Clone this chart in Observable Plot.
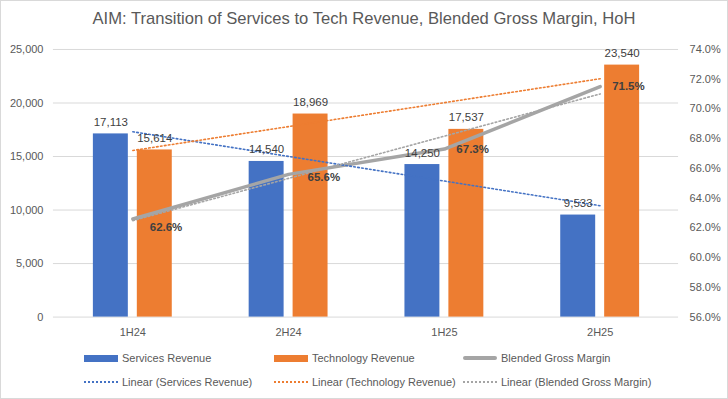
<!DOCTYPE html>
<html>
<head>
<meta charset="utf-8">
<script src="https://cdn.jsdelivr.net/npm/d3@7"></script>
<script src="https://cdn.jsdelivr.net/npm/@observablehq/plot@0.6"></script>
<style>
  body { margin: 0; background: #fff; }
  #chart { position: relative; width: 728px; height: 399px; box-sizing: border-box; border: 1px solid #d9d9d9; font-family: "Liberation Sans", Arial, sans-serif; overflow: hidden; background: #fff; }
  #title { position: absolute; top: 8px; left: 0; width: 100%; text-align: center; font-size: 16.6px; color: #595959; white-space: nowrap; }
  #plot { position: absolute; top: 29px; left: -1px; }
  .lg { position: absolute; display: flex; align-items: center; font-size: 11px; color: #595959; white-space: nowrap; height: 14px; }
  .sw { width: 34px; margin-right: 4px; box-sizing: border-box; }
</style>
</head>
<body>
<div id="chart">
  <div id="title"></div>
  <div id="plot"></div>
</div>
<script>
const titleText = "AIM: Transition of Services to Tech Revenue, Blended Gross Margin, HoH";
const categories = ["1H24", "2H24", "1H25", "2H25"];
const servicesRevenue = [17113, 14540, 14250, 9533];
const technologyRevenue = [15614, 18969, 17537, 23540];
const blendedMargin = [62.6, 65.6, 67.3, 71.5];
const leftTicks = [0, 5000, 10000, 15000, 20000, 25000];
const rightTicks = [56, 58, 60, 62, 64, 66, 68, 70, 72, 74];
const seriesNames = ["Services Revenue", "Technology Revenue", "Blended Gross Margin"];
const trendNames = ["Linear (Services Revenue)", "Linear (Technology Revenue)", "Linear (Blended Gross Margin)"];

// styling
const colors = ["#4472C4", "#ED7D31", "#A5A5A5"];
const marginLabelDx = [17, 19, 12, 12];
const marginLabelDy = [8, 3, 0, 0];

document.getElementById("title").textContent = titleText;

const leftMax = 25000, rMin = 56, rMax = 74;
const toLeft = m => (m - rMin) / (rMax - rMin) * leftMax;
const fromLeft = v => rMin + v / leftMax * (rMax - rMin);

const rows = categories.map((c, i) => ({
  cat: c, services: servicesRevenue[i], tech: technologyRevenue[i],
  margin: blendedMargin[i], marginY: toLeft(blendedMargin[i])
}));

function linearFit(vals) {
  const xs = vals.map((_, i) => i + 1);
  const mx = d3.mean(xs), my = d3.mean(vals);
  let sxy = 0, sxx = 0;
  xs.forEach((x, i) => { sxy += (x - mx) * (vals[i] - my); sxx += (x - mx) ** 2; });
  const b = sxy / sxx, a = my - b * mx;
  return xs.map(x => a + b * x);
}
const trendServices = linearFit(servicesRevenue);
const trendTech = linearFit(technologyRevenue);
const trendMargin = linearFit(blendedMargin).map(toLeft);
const trendRows = (vals) => categories.map((c, i) => ({cat: c, y: vals[i]}));

const fmt = d3.format(",");
const dotted = {strokeWidth: 1.6, strokeDasharray: "1.6 2.4"};

const chart = Plot.plot({
  width: 728, height: 315,
  marginTop: 19, marginBottom: 28, marginLeft: 53, marginRight: 49,
  x: {type: "band", domain: categories, paddingInner: 0.495, paddingOuter: 0.2475},
  y: {domain: [0, leftMax]},
  style: {fontFamily: '"Liberation Sans", Arial, sans-serif', fontSize: "11px", color: "#595959", background: "transparent"},
  marks: [
    Plot.gridY(leftTicks, {stroke: "#d9d9d9", strokeOpacity: 1}),
    Plot.axisY(leftTicks, {anchor: "left", tickSize: 0, tickPadding: 10, tickFormat: fmt, label: null, fill: "#595959"}),
    Plot.axisY(rightTicks.map(toLeft), {anchor: "right", tickSize: 0, tickPadding: 11, tickFormat: v => fromLeft(v).toFixed(1) + "%", label: null, fill: "#595959"}),
    Plot.axisX({tickSize: 0, tickPadding: 11, label: null, fill: "#595959"}),
    Plot.barY(rows, {x: "cat", y: "services", fill: colors[0], insetRight: 44}),
    Plot.barY(rows, {x: "cat", y: "tech", fill: colors[1], insetLeft: 44}),
    Plot.line(rows, {x: "cat", y: "marginY", stroke: colors[2], strokeWidth: 3.5, strokeLinecap: "round", strokeLinejoin: "round"}),
    Plot.line(trendRows(trendServices), {x: "cat", y: "y", stroke: colors[0], ...dotted}),
    Plot.line(trendRows(trendTech), {x: "cat", y: "y", stroke: colors[1], ...dotted}),
    Plot.line(trendRows(trendMargin), {x: "cat", y: "y", stroke: colors[2], ...dotted}),
    Plot.text(rows, {x: "cat", y: "services", text: d => fmt(d.services), dx: -22, dy: -8, lineAnchor: "bottom", fill: "#404040", fontSize: 11.5}),
    Plot.text(rows, {x: "cat", y: "tech", text: d => fmt(d.tech), dx: 22, dy: -8, lineAnchor: "bottom", fill: "#404040", fontSize: 11.5}),
    ...rows.map((r, i) => Plot.text([r], {x: "cat", y: "marginY", text: d => d.margin.toFixed(1) + "%", textAnchor: "start", dx: marginLabelDx[i], dy: marginLabelDy[i], fill: "#404040", fontSize: 11.5, fontWeight: "bold"}))
  ]
});
document.getElementById("plot").appendChild(chart);

// Legend
const chartDiv = document.getElementById("chart");
const colX = [83, 273, 462];
const rowY = [350, 374];
seriesNames.forEach((name, i) => {
  const el = document.createElement("div");
  el.className = "lg";
  el.style.left = colX[i] + "px"; el.style.top = rowY[0] + "px";
  const sw = document.createElement("div");
  sw.className = "sw";
  if (i < 2) { sw.style.height = "7px"; sw.style.background = colors[i]; }
  else { sw.style.height = "4px"; sw.style.background = colors[i]; sw.style.borderRadius = "2px"; }
  el.appendChild(sw);
  el.appendChild(document.createTextNode(name));
  chartDiv.appendChild(el);
});
trendNames.forEach((name, i) => {
  const el = document.createElement("div");
  el.className = "lg";
  el.style.left = colX[i] + "px"; el.style.top = rowY[1] + "px";
  const sw = document.createElement("div");
  sw.className = "sw";
  sw.style.height = "0px"; sw.style.borderTop = "2px dotted " + colors[i];
  el.appendChild(sw);
  el.appendChild(document.createTextNode(name));
  chartDiv.appendChild(el);
});
</script>
</body>
</html>
